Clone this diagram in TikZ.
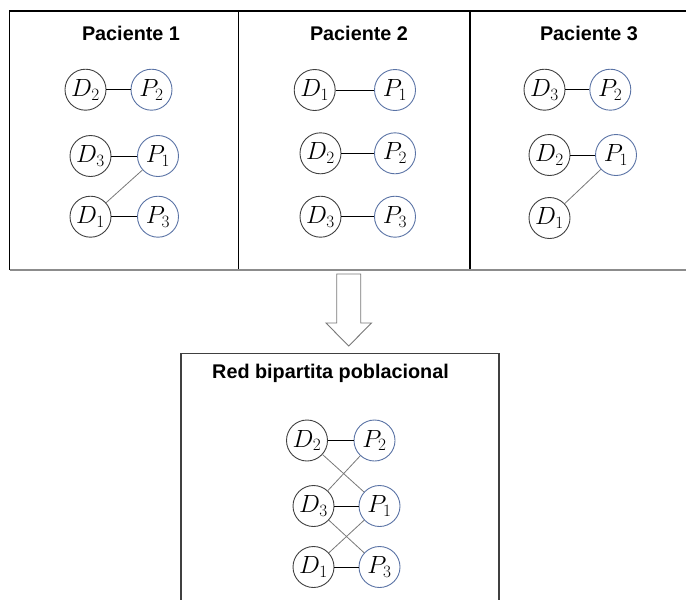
\documentclass[tikz,border=0pt]{standalone}
\usepackage{fontspec}
\newfontfamily\titlefont{Liberation Sans}
\definecolor{dline}{RGB}{64,64,64}
\definecolor{pline}{RGB}{90,115,165}
\definecolor{diag}{RGB}{120,120,120}
\definecolor{boxgray}{RGB}{140,140,140}
\begin{document}
\begin{tikzpicture}[x=1pt,y=-1pt,
  dnode/.style={circle,draw=dline,line width=0.9pt,minimum size=41pt,inner sep=0pt,font=\fontsize{23}{23}\selectfont},
  pnode/.style={circle,draw=pline,line width=0.9pt,minimum size=41pt,inner sep=0pt,font=\fontsize{23}{23}\selectfont},
  hedge/.style={draw=black,line width=0.9pt},
  dedge/.style={draw=diag,line width=0.8pt},
  ttl/.style={font=\titlefont\bfseries\fontsize{19.8}{20}\selectfont,inner sep=0pt,anchor=center},
  frame/.style={draw=black,line width=1.3pt}
]
\useasboundingbox (0,0) rectangle (686,600);
% top frame
\draw[frame] (9.5,270) -- (9.5,11) -- (686,11);
\draw[frame] (238.5,11) -- (238.5,270);
\draw[frame] (470,11) -- (470,270);
\draw[draw=boxgray,line width=1.8pt] (9.5,270) -- (686,270);

% titles
\node[ttl] (t1) at (131,33) {Paciente 1};
\node[ttl] (t2) at (359,33) {Paciente 2};
\node[ttl] (t3) at (589,33) {Paciente 3};

% panel 1
\node[dnode] (aD2) at (85.5,89.7) {$D_2$};
\node[pnode] (aP2) at (151.5,89.7) {$P_2$};
\node[dnode] (aD3) at (90.5,156) {$D_3$};
\node[pnode] (aP1) at (158,156) {$P_1$};
\node[dnode] (aD1) at (90.5,216.7) {$D_1$};
\node[pnode] (aP3) at (158,216.7) {$P_3$};
\draw[hedge] (aD2) -- (aP2);
\draw[hedge] (aD3) -- (aP1);
\draw[hedge] (aD1) -- (aP3);
\draw[dedge] (aD1) -- (aP1);

% panel 2
\node[dnode] (bD1) at (314.7,90) {$D_1$};
\node[pnode] (bP1) at (395,90) {$P_1$};
\node[dnode] (bD2) at (320.5,153.3) {$D_2$};
\node[pnode] (bP2) at (395,153.3) {$P_2$};
\node[dnode] (bD3) at (320.5,216.7) {$D_3$};
\node[pnode] (bP3) at (395,216.7) {$P_3$};
\draw[hedge] (bD1) -- (bP1);
\draw[hedge] (bD2) -- (bP2);
\draw[hedge] (bD3) -- (bP3);

% panel 3
\node[dnode] (cD3) at (544.5,89.7) {$D_3$};
\node[pnode] (cP2) at (610.3,89.7) {$P_2$};
\node[dnode] (cD2) at (549.5,155) {$D_2$};
\node[pnode] (cP1) at (616,155) {$P_1$};
\node[dnode] (cD1) at (549.5,218) {$D_1$};
\draw[hedge] (cD3) -- (cP2);
\draw[hedge] (cD2) -- (cP1);
\draw[dedge] (cD1) -- (cP1);

% arrow
\draw[draw=diag,line width=0.9pt,fill=white,line join=miter]
  (336.7,274) -- (360.7,274) -- (360.7,323) -- (371.5,323) -- (348.7,346)
  -- (326,323) -- (336.7,323) -- cycle;

% bottom frame
\draw[draw=dline,line width=1.3pt] (181,600) -- (181,353.3) -- (499,353.3) -- (499,600);
\node[ttl] (t4) at (330.5,373) {Red bipartita poblacional};

\node[dnode] (eD2) at (307,440.5) {$D_2$};
\node[pnode] (eP2) at (374.5,440.5) {$P_2$};
\node[dnode] (eD3) at (313.5,506) {$D_3$};
\node[pnode] (eP1) at (379.5,506) {$P_1$};
\node[dnode] (eD1) at (313.5,567) {$D_1$};
\node[pnode] (eP3) at (379.5,567) {$P_3$};
\draw[hedge] (eD2) -- (eP2);
\draw[hedge] (eD3) -- (eP1);
\draw[hedge] (eD1) -- (eP3);
\draw[dedge] (eD2) -- (eP1);
\draw[dedge] (eP2) -- (eD3);
\draw[dedge] (eD3) -- (eP3);
\draw[dedge] (eP1) -- (eD1);
\end{tikzpicture}
\end{document}
